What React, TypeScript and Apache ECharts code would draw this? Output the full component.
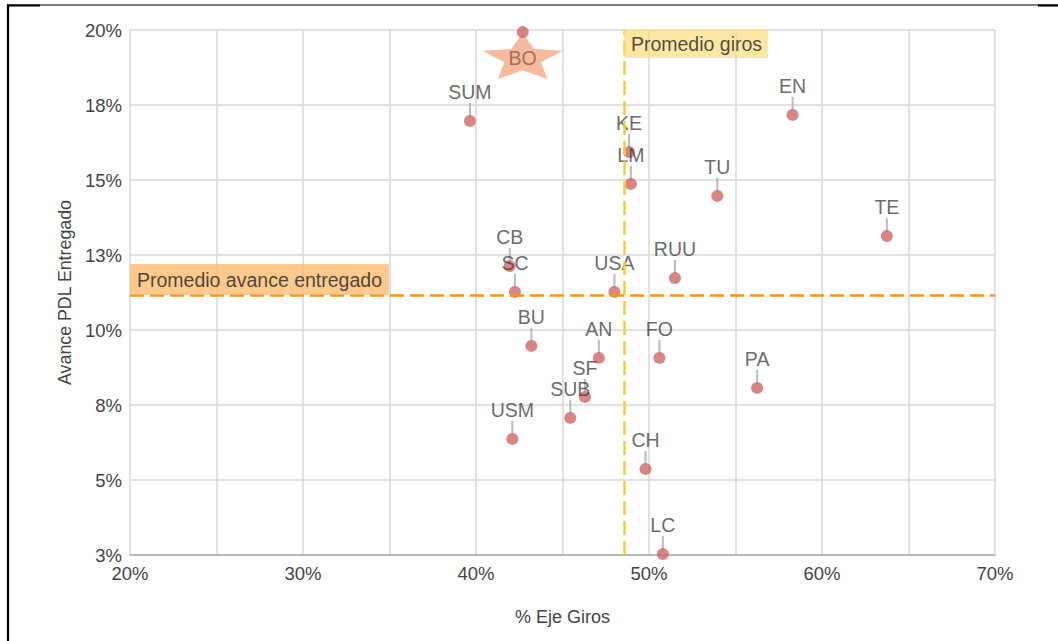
import React, { useEffect, useRef } from "react";
import * as echarts from "echarts";

const names = ["BO", "SUM", "EN", "KE", "LM", "TU", "TE", "CB", "SC", "USA", "RUU", "BU", "AN", "FO", "PA", "SF", "SUB", "USM", "CH", "LC"];
const giros = [42.7, 39.65, 58.3, 48.85, 48.95, 53.95, 63.75, 41.95, 42.25, 48.0, 51.5, 43.2, 47.1, 50.6, 56.25, 46.3, 45.45, 42.1, 49.8, 50.8];
const avance = [19.93, 16.97, 17.17, 15.93, 14.87, 14.47, 13.13, 12.13, 11.27, 11.27, 11.73, 9.47, 9.07, 9.07, 8.07, 7.77, 7.07, 6.37, 5.37, 2.53];
const starred = ["BO"];

const promedioGiros = 48.55;
const promedioAvance = 11.17;

const xMin = 20, xMax = 70, xStep = 5;
const yMin = 2.5, yMax = 20, yStep = 2.5;

const FONT = 'Arial, "Liberation Sans", sans-serif';
const STAR = "path://M50 0 L63.5 31.5 L97.55 34.55 L71.8 57.2 L79.39 90.45 L50 73 L20.61 90.45 L28.2 57.2 L2.45 34.55 L36.5 31.5 Z";

export default function App() {
  const ref = useRef<HTMLDivElement>(null);
  useEffect(() => {
    if (!ref.current) return;
    const chart = echarts.init(ref.current, undefined, { renderer: "svg" });
    const pts = names.map((n, i) => ({
      name: n,
      value: [giros[i], avance[i]],
      label: { show: !starred.includes(n) },
    }));
    const stems = names
      .map((n, i) => ({ name: n, value: [giros[i], avance[i]] }))
      .filter((d) => !starred.includes(d.name));
    const stars = names
      .map((n, i) => ({ name: n, value: [giros[i], avance[i]] }))
      .filter((d) => starred.includes(d.name));

    chart.setOption({
      animation: false,
      textStyle: { fontFamily: FONT },
      graphic: [
        {
          type: "line",
          shape: { x1: 7, y1: 5, x2: 1058, y2: 5 },
          style: { stroke: "#000", lineWidth: 1.2 },
          silent: true,
        },
        {
          type: "line",
          shape: { x1: 7, y1: 5.5, x2: 40, y2: 5.5 },
          style: { stroke: "#000", lineWidth: 2.2 },
          silent: true,
        },
        {
          type: "line",
          shape: { x1: 1038, y1: 5.5, x2: 1058, y2: 5.5 },
          style: { stroke: "#000", lineWidth: 2.2 },
          silent: true,
        },
        {
          type: "line",
          shape: { x1: 8, y1: 4.5, x2: 8, y2: 641 },
          style: { stroke: "#000", lineWidth: 2.2 },
          silent: true,
        },
      ],
      grid: { left: 130, right: 63, top: 30, bottom: 86 },
      xAxis: {
        type: "value",
        min: xMin,
        max: xMax,
        interval: xStep,
        name: "% Eje Giros",
        nameLocation: "middle",
        nameGap: 53,
        nameTextStyle: { color: "#444", fontSize: 18, fontFamily: FONT },
        axisLine: { show: true, lineStyle: { color: "#aaa", width: 1.5 } },
        axisTick: { show: false },
        axisLabel: {
          color: "#444",
          fontSize: 18.5,
          fontFamily: FONT,
          margin: 9,
          formatter: (v: number) => (Math.round(v) % 10 === 0 ? Math.round(v) + "%" : ""),
        },
        splitLine: { show: true, lineStyle: { color: "#d8d8d8", width: 1.5 } },
      },
      yAxis: {
        type: "value",
        min: yMin,
        max: yMax,
        interval: yStep,
        name: "Avance PDL Entregado",
        nameLocation: "middle",
        nameGap: 49,
        nameTextStyle: { color: "#444", fontSize: 17.8, fontFamily: FONT },
        axisLine: { show: false },
        axisTick: { show: false },
        axisLabel: {
          color: "#444",
          fontSize: 18.5,
          fontFamily: FONT,
          margin: 8,
          formatter: (v: number) => Math.round(v) + "%",
        },
        splitLine: { show: true, lineStyle: { color: "#d8d8d8", width: 1.5 } },
      },
      series: [
        {
          type: "scatter",
          name: "stems",
          data: stems,
          symbol: "rect",
          symbolSize: [2, 14],
          symbolOffset: [0, -11],
          itemStyle: { color: "#aaa" },
          silent: true,
          z: 2,
        },
        {
          type: "scatter",
          name: "star",
          data: stars,
          symbol: STAR,
          symbolKeepAspect: false,
          symbolSize: [80, 46],
          symbolOffset: [0, 24],
          itemStyle: { color: "#f4a984" },
          label: {
            show: true,
            position: "inside",
            formatter: "{b}",
            color: "#8a5a48",
            fontSize: 19.5,
            fontFamily: FONT,
            offset: [0, 2],
          },
          z: 2,
        },
        {
          type: "scatter",
          name: "points",
          data: pts,
          symbol: "circle",
          symbolSize: 12,
          itemStyle: { color: "#d16666" },
          label: {
            position: "top",
            distance: 13,
            formatter: "{b}",
            color: "#444",
            fontSize: 19.5,
            fontFamily: FONT,
          },
          z: 4,
          markLine: {
            silent: true,
            symbol: "none",
            label: { show: false },
            data: [
              { xAxis: promedioGiros, lineStyle: { color: "#fbcb32", width: 2.5, type: [14, 6] } },
              { yAxis: promedioAvance, lineStyle: { color: "#f7941d", width: 2.5, type: [14, 6] } },
            ],
          },
        },
        {
          type: "scatter",
          name: "Promedio giros",
          data: [{ name: "Promedio giros", value: [promedioGiros, yMax] }],
          symbolSize: 0,
          silent: true,
          z: 5,
          label: {
            show: true,
            position: [0, 0],
            align: "left",
            verticalAlign: "top",
            formatter: "{b}",
            color: "#222",
            fontSize: 19.5,
            fontFamily: FONT,
            backgroundColor: "rgba(253,220,120,0.85)",
            padding: [4, 6, 4, 7],
          },
        },
        {
          type: "scatter",
          name: "Promedio avance entregado",
          data: [{ name: "Promedio avance entregado", value: [xMin, promedioAvance] }],
          symbolSize: 0,
          silent: true,
          z: 5,
          label: {
            show: true,
            position: [0, 0],
            align: "left",
            verticalAlign: "bottom",
            formatter: "{b}",
            color: "#222",
            fontSize: 19.5,
            fontFamily: FONT,
            backgroundColor: "rgba(252,180,95,0.9)",
            padding: [6, 7, 5, 7],
          },
        },
      ],
    });
    return () => chart.dispose();
  }, []);
  return (
    <div
      ref={ref}
      style={{ position: "absolute", left: 0, top: 0, width: 1058, height: 641, background: "#fff" }}
    />
  );
}
